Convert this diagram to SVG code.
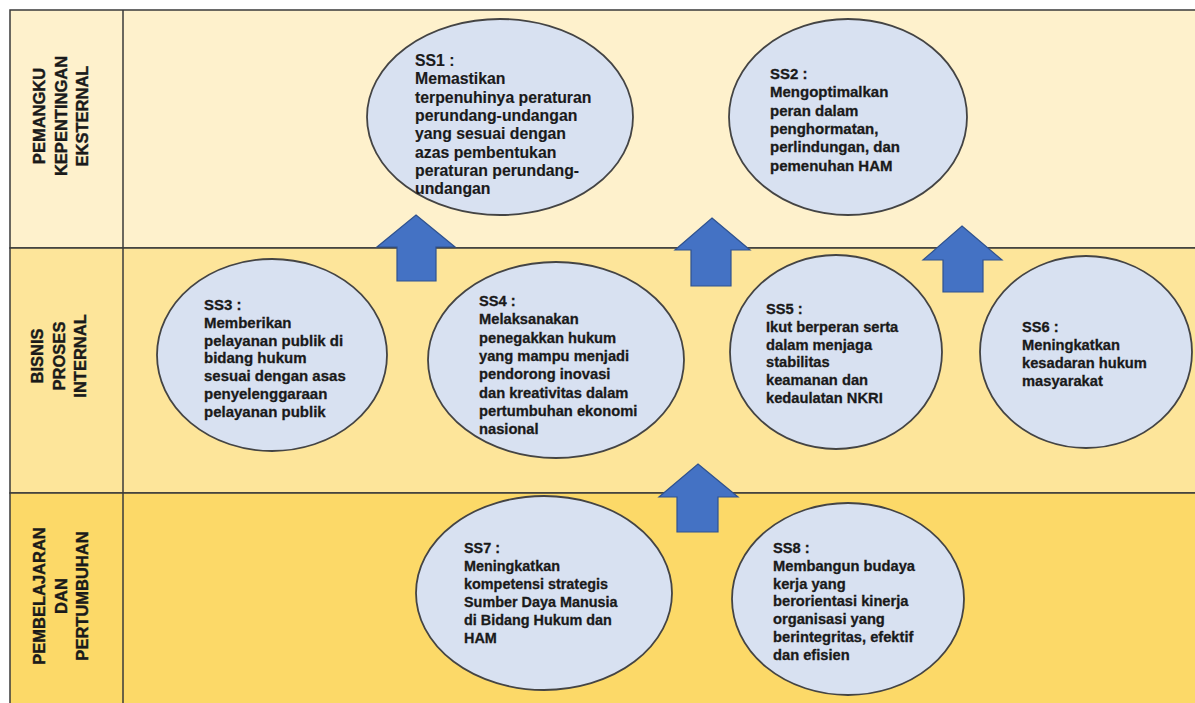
<svg xmlns="http://www.w3.org/2000/svg" width="1195" height="703" viewBox="0 0 1195 703">
<style>
.lane{stroke:#3a3a3a;stroke-width:1.5}
.l1{fill:#FEF1CC}
.l2{fill:#FDE59A}
.l3{fill:#FCD968}
.lbl{font-family:"Liberation Sans",Arial,sans-serif;font-weight:bold;font-size:16.5px;fill:#1a1a1a;stroke:#1a1a1a;stroke-width:0.4;text-anchor:middle}
.node ellipse{fill:#D8E1F1;stroke:#444;stroke-width:1.8}
.node text{font-family:"Liberation Sans",Arial,sans-serif;font-weight:bold;font-size:14.7px;fill:#1a1a1a;stroke:#1a1a1a;stroke-width:0.3}
.arrow{fill:#4472C4;stroke:#2F528F;stroke-width:1.2}
</style>
<rect width="1195" height="703" fill="#ffffff"/>
<g id="lanes">
<rect class="lane l1" x="10" y="10" width="1190" height="238"/>
<rect class="lane l2" x="10" y="248" width="1190" height="245"/>
<rect class="lane l3" x="10" y="493" width="1190" height="215"/>
<line class="lane" x1="123" y1="10" x2="123" y2="703"/>
</g>
<g id="lane-labels">
<text class="lbl" transform="translate(0,116) rotate(-90)"><tspan x="0" y="45">PEMANGKU</tspan><tspan x="0" y="66.5">KEPENTINGAN</tspan><tspan x="0" y="88">EKSTERNAL</tspan></text>
<text class="lbl" transform="translate(0,356) rotate(-90)"><tspan x="0" y="43">BISNIS</tspan><tspan x="0" y="64.5">PROSES</tspan><tspan x="0" y="86">INTERNAL</tspan></text>
<text class="lbl" transform="translate(0,596) rotate(-90)"><tspan x="0" y="45">PEMBELAJARAN</tspan><tspan x="0" y="66.5">DAN</tspan><tspan x="0" y="88">PERTUMBUHAN</tspan></text>
</g>
<g id="connectors">
<polygon class="arrow" points="416,215 455,247 436,247 436,281 397,281 397,247 377,247"/>
<polygon class="arrow" points="712,218 750,250 731,250 731,286 691,286 691,250 675,250"/>
<polygon class="arrow" points="962,226 1002,260 983,260 983,292 943,292 943,260 923,260"/>
<polygon class="arrow" points="698,464 738,497 718,497 718,532 677,532 677,497 659,497"/>
</g>
<g id="SS1" class="node">
<ellipse cx="500" cy="117" rx="133" ry="98"/>
<text style="font-size:15.8px;stroke-width:0.15"><tspan x="415" y="66">SS1 :</tspan><tspan x="415" y="84.3">Memastikan</tspan><tspan x="415" y="102.6">terpenuhinya peraturan</tspan><tspan x="415" y="120.9">perundang-undangan</tspan><tspan x="415" y="139.2">yang sesuai dengan</tspan><tspan x="415" y="157.5">azas pembentukan</tspan><tspan x="415" y="175.8">peraturan perundang-</tspan><tspan x="415" y="194.1">undangan</tspan></text>
</g>
<g id="SS2" class="node">
<ellipse cx="848" cy="117" rx="119" ry="98"/>
<text style="font-size:15px"><tspan x="770" y="79">SS2 :</tspan><tspan x="770" y="97.3">Mengoptimalkan</tspan><tspan x="770" y="115.6">peran dalam</tspan><tspan x="770" y="133.9">penghormatan,</tspan><tspan x="770" y="152.2">perlindungan, dan</tspan><tspan x="770" y="170.5">pemenuhan HAM</tspan></text>
</g>
<g id="SS3" class="node">
<ellipse cx="272" cy="355" rx="115" ry="96"/>
<text style="font-size:15px"><tspan x="204" y="310">SS3 :</tspan><tspan x="204" y="327.8">Memberikan</tspan><tspan x="204" y="345.6">pelayanan publik di</tspan><tspan x="204" y="363.4">bidang hukum</tspan><tspan x="204" y="381.2">sesuai dengan asas</tspan><tspan x="204" y="399">penyelenggaraan</tspan><tspan x="204" y="416.8">pelayanan publik</tspan></text>
</g>
<g id="SS4" class="node">
<ellipse cx="556" cy="360" rx="128" ry="98"/>
<text><tspan x="479" y="306">SS4 :</tspan><tspan x="479" y="324.3">Melaksanakan</tspan><tspan x="479" y="342.6">penegakkan hukum</tspan><tspan x="479" y="360.9">yang mampu menjadi</tspan><tspan x="479" y="379.2">pendorong inovasi</tspan><tspan x="479" y="397.5">dan kreativitas dalam</tspan><tspan x="479" y="415.8">pertumbuhan ekonomi</tspan><tspan x="479" y="434.1">nasional</tspan></text>
</g>
<g id="SS5" class="node">
<ellipse cx="836" cy="352" rx="106" ry="97"/>
<text><tspan x="766" y="314">SS5 :</tspan><tspan x="766" y="331.8">Ikut berperan serta</tspan><tspan x="766" y="349.6">dalam menjaga</tspan><tspan x="766" y="367.4">stabilitas</tspan><tspan x="766" y="385.2">keamanan dan</tspan><tspan x="766" y="403">kedaulatan NKRI</tspan></text>
</g>
<g id="SS6" class="node">
<ellipse cx="1086" cy="352" rx="106" ry="96"/>
<text><tspan x="1022" y="332">SS6 :</tspan><tspan x="1022" y="350">Meningkatkan</tspan><tspan x="1022" y="368">kesadaran hukum</tspan><tspan x="1022" y="386">masyarakat</tspan></text>
</g>
<g id="SS7" class="node">
<ellipse cx="544" cy="593" rx="128" ry="97"/>
<text style="font-size:14.4px"><tspan x="464" y="553">SS7 :</tspan><tspan x="464" y="571">Meningkatkan</tspan><tspan x="464" y="589">kompetensi strategis</tspan><tspan x="464" y="607">Sumber Daya Manusia</tspan><tspan x="464" y="625">di Bidang Hukum dan</tspan><tspan x="464" y="643">HAM</tspan></text>
</g>
<g id="SS8" class="node">
<ellipse cx="848" cy="599" rx="116" ry="96"/>
<text><tspan x="773" y="553">SS8 :</tspan><tspan x="773" y="570.8">Membangun budaya</tspan><tspan x="773" y="588.6">kerja yang</tspan><tspan x="773" y="606.4">berorientasi kinerja</tspan><tspan x="773" y="624.2">organisasi yang</tspan><tspan x="773" y="642">berintegritas, efektif</tspan><tspan x="773" y="659.8">dan efisien</tspan></text>
</g>
</svg>
